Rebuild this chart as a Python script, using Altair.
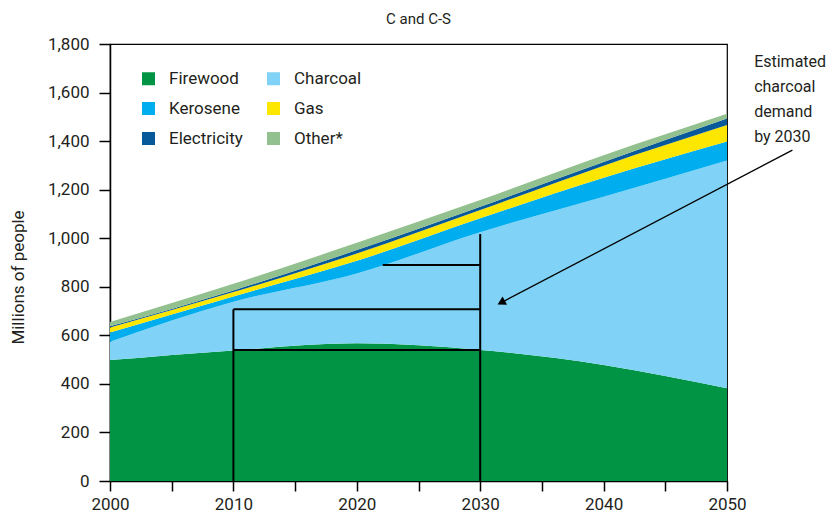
import altair as alt
import pandas as pd

FONT = "Roboto"
INK = "#231f20"

years = [2000, 2010, 2020, 2030, 2040, 2050]
fuels = ["Firewood", "Charcoal", "Kerosene", "Gas", "Electricity", "Other*"]
legend_order = ["Firewood", "Kerosene", "Electricity", "Charcoal", "Gas", "Other*"]
firewood = [498, 538, 567, 540, 478, 382]
charcoal = [76, 200, 288, 485, 693, 938]
kerosene = [38, 22, 52, 57, 78, 78]
gas = [20, 18, 30, 34, 50, 68]
electricity = [5, 7, 14, 14, 15, 27]
other = [18, 27, 30, 27, 28, 20]
colors = {"Firewood": "#009444", "Charcoal": "#80d3f6", "Kerosene": "#00aeef",
          "Gas": "#fde600", "Electricity": "#07599a", "Other*": "#93c08f"}

# annotation segments (data coordinates)
seg_x = [2010, 2010, 2010, 2030, 2022.1]
seg_x2 = [2010, 2030, 2030, 2030, 2030]
seg_y = [0, 540, 707, 0, 890]
seg_y2 = [707, 540, 707, 1017, 890]

arrow_from = (2055.3, 1363)
arrow_to = (2031.9, 740)
arrow_head = (2031.7, 735)

note_lines = ["Estimated", "charcoal", "demand", "by 2030"]
note_x = 2052.2
note_y = [1707, 1603, 1499, 1396]

title_text = "C and C-S"
title_pos = (2025, 1884)

series = [firewood, charcoal, kerosene, gas, electricity, other]
rows = []
for rank, (name, vals) in enumerate(zip(fuels, series)):
    for yr, v in zip(years, vals):
        rows.append({"year": yr, "value": v, "fuel": name, "rank": rank})
df = pd.DataFrame(rows)

seg_df = pd.DataFrame({"year": seg_x, "year2": seg_x2, "value": seg_y, "value2": seg_y2})
arrow_df = pd.DataFrame({"year": [arrow_from[0]], "year2": [arrow_to[0]],
                         "value": [arrow_from[1]], "value2": [arrow_to[1]]})
head_df = pd.DataFrame({"year": [arrow_head[0]], "value": [arrow_head[1]]})
note_df = pd.DataFrame({"year": [note_x] * 4, "value": note_y, "label": note_lines})
title_df = pd.DataFrame({"year": [title_pos[0]], "value": [title_pos[1]], "label": [title_text]})

xscale = alt.Scale(domain=[2000, 2050], nice=False, zero=False)
yscale = alt.Scale(domain=[0, 1800], nice=False)

areas = alt.Chart(df).mark_area(interpolate="monotone", opacity=1).encode(
    x=alt.X("year:Q", scale=xscale, title=None,
            axis=alt.Axis(values=list(range(2000, 2051, 5)),
                          labelExpr="datum.value % 10 === 0 ? toString(datum.value) : ''",
                          tickSize=10, labelPadding=5, grid=False, labelFontSize=17,
                          labelFont=FONT, labelColor=INK, domainColor="black",
                          tickColor="black", domainWidth=1.5, tickWidth=1.5,
                          labelFlush=False, labelOverlap=False)),
    y=alt.Y("value:Q", stack="zero", scale=yscale, title="Millions of people",
            axis=alt.Axis(values=list(range(0, 1801, 200)), format=",d",
                          tickSize=11, labelPadding=10, grid=False, labelFontSize=17,
                          labelFont=FONT, labelColor=INK, domainColor="black",
                          tickColor="black", domainWidth=1.5, tickWidth=1.5,
                          titleFont=FONT, titleFontSize=17, titleFontWeight="normal",
                          titleColor=INK, titleAngle=-90, titleBaseline="middle",
                          titleAlign="center", titleX=-92, titleY=233)),
    color=alt.Color("fuel:N",
                    scale=alt.Scale(domain=legend_order, range=[colors[f] for f in legend_order]),
                    legend=alt.Legend(title=None, orient="none", legendX=30, legendY=26,
                                      columns=2, symbolType="square", symbolSize=169,
                                      labelFontSize=17, labelFont=FONT, labelColor=INK,
                                      labelOffset=12, rowPadding=12, columnPadding=22,
                                      symbolStrokeWidth=0, padding=0)),
    order=alt.Order("rank:Q", sort="ascending"),
)

segs = alt.Chart(seg_df).mark_rule(color="black", strokeWidth=2).encode(
    x="year:Q", x2="year2:Q", y="value:Q", y2="value2:Q"
)

arrow = alt.Chart(arrow_df).mark_rule(color="black", strokeWidth=1.3).encode(
    x="year:Q", x2="year2:Q", y="value:Q", y2="value2:Q"
)

head = alt.Chart(head_df).mark_point(shape="triangle-up", filled=True, size=90,
                                     angle=242, color="black", opacity=1).encode(
    x="year:Q", y="value:Q"
)

note = alt.Chart(note_df).mark_text(align="left", baseline="alphabetic", fontSize=16,
                                    font=FONT, color=INK).encode(
    x="year:Q", y="value:Q", text="label:N"
)

title = alt.Chart(title_df).mark_text(align="center", baseline="alphabetic", fontSize=15,
                                      font=FONT, color=INK).encode(
    x="year:Q", y="value:Q", text="label:N"
)

chart = alt.layer(areas, segs, arrow, head, note, title).properties(
    width=617, height=437,
    autosize=alt.AutoSizeParams(type="none"),
    padding={"left": 102, "top": 36, "right": 101, "bottom": 33},
).configure_view(stroke="black", strokeWidth=1.2)

chart.save("out.html", embed_options={"renderer": "svg", "actions": False})
